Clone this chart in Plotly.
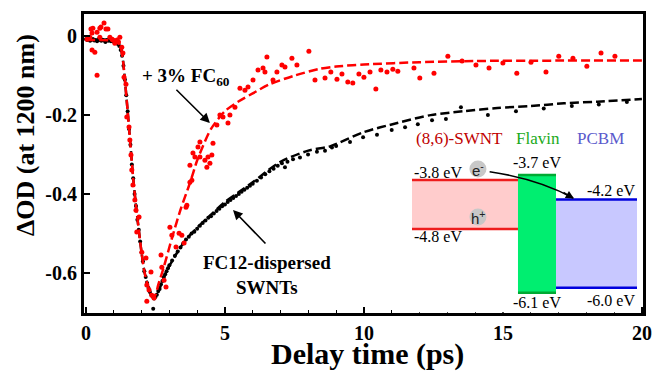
import plotly.graph_objects as go

# ---------------- data ----------------
black_x = [0.0,0.05,0.1,0.15,0.2,0.25,0.3,0.35,0.4,0.45,0.5,0.55,0.6,0.65,0.7,0.75,0.8,0.85,0.9,0.95,
           1.0,1.05,1.1,1.15,1.2,1.25,1.3,1.35,1.4,1.45,1.5,1.55,1.6,1.65,1.7,1.75,1.8,1.85,1.9,1.95,
           2.0,2.05,2.1,2.15,2.2,2.25,2.3,2.35,2.4,2.42,2.45,2.5,2.55,2.6,2.65,2.7,2.75,2.8,2.85,2.9,
           2.95,3.0,3.1,3.2,3.3,3.4,3.5,3.6,3.7,3.8,3.9,4.0,4.1,4.2,4.3,4.4,4.5,4.6,4.7,4.8,4.9,5.0,
           5.1,5.2,5.3,5.4,5.5,5.6,5.7,5.8,5.9,6.0,6.15,6.3,6.45,6.6,6.75,6.9,7.05,7.16,7.25,7.45,
           7.7,7.99,8.31,8.6,8.85,9.0,9.5,9.97,10.47,11.0,11.48,11.94,12.45,12.95,13.49,14.46,15.47,
           16.47,17.48,18.45,19.46]
black_y = [-0.008,-0.01,-0.006,-0.012,-0.009,-0.007,-0.011,-0.01,-0.013,-0.008,-0.01,-0.012,-0.009,-0.011,
           -0.015,-0.01,-0.012,-0.009,-0.013,-0.011,-0.014,-0.012,-0.016,-0.02,-0.025,-0.035,-0.05,-0.075,
           -0.11,-0.15,-0.19,-0.235,-0.275,-0.325,-0.36,-0.4,-0.43,-0.465,-0.49,-0.52,-0.548,-0.57,-0.595,
           -0.61,-0.625,-0.638,-0.648,-0.655,-0.66,-0.69,-0.664,-0.66,-0.655,-0.645,-0.64,-0.628,-0.62,-0.61,
           -0.603,-0.595,-0.588,-0.58,-0.568,-0.556,-0.545,-0.535,-0.525,-0.515,-0.508,-0.5,-0.495,-0.488,
           -0.48,-0.473,-0.467,-0.46,-0.456,-0.449,-0.443,-0.437,-0.431,-0.426,-0.42,-0.415,-0.41,-0.405,
           -0.4,-0.394,-0.389,-0.384,-0.379,-0.374,-0.366,-0.358,-0.35,-0.342,-0.336,-0.328,-0.322,-0.332,
           -0.318,-0.312,-0.307,-0.3,-0.293,-0.29,-0.282,-0.278,-0.268,-0.256,-0.25,-0.238,-0.231,-0.223,
           -0.213,-0.21,-0.18,-0.2,-0.19,-0.183,-0.177,-0.173,-0.167]

black_fit_x = [0,1.1,1.2,1.3,1.4,1.5,1.6,1.7,1.8,1.9,2.0,2.1,2.2,2.3,2.4,2.5,2.6,2.8,3.0,3.3,3.6,4.0,4.5,
               5.0,5.5,6.0,7.0,8.0,8.78,10,11.2,12.4,13.6,14.8,16,17.2,18.4,20]
black_fit_y = [-0.01,-0.012,-0.02,-0.045,-0.11,-0.19,-0.275,-0.36,-0.43,-0.49,-0.548,-0.595,-0.625,-0.648,
               -0.66,-0.662,-0.648,-0.612,-0.582,-0.546,-0.515,-0.485,-0.452,-0.42,-0.395,-0.37,-0.318,
               -0.29,-0.279,-0.243,-0.22,-0.2,-0.19,-0.182,-0.177,-0.17,-0.166,-0.159]

red_x = [0.04,0.14,0.22,0.25,0.22,0.32,0.40,0.40,0.50,0.50,0.65,0.72,0.86,0.97,1.04,1.12,1.22,1.29,1.33,
         0.18,0.54,0.79,0.94,1.08,1.17,
         1.37,1.44,1.47,1.55,1.58,1.62,1.65,1.69,1.76,1.80,1.91,1.83,2.01,2.16,2.34,2.19,2.27,2.37,2.19,2.45,
         2.70,2.73,2.81,2.88,3.02,3.09,3.24,3.35,3.45,3.53,3.60,3.63,3.74,3.74,3.81,3.85,3.92,4.03,4.10,
         4.10,4.28,4.35,4.39,4.46,4.53,4.57,4.71,4.82,4.93,5.11,5.18,5.36,5.54,5.72,5.83,6.01,6.19,6.37,
         6.44,6.51,6.73,6.87,7.05,7.16,7.41,7.59,8.02,8.24,8.60,8.81,9.03,9.21,9.42,9.60,9.82,10.00,10.22,
         10.43,10.61,10.83,11.04,11.22,11.80,12.01,12.52,13.02,13.53,14.03,14.50,15.00,15.50,16.01,16.55,
         17.01,17.52,18.02,18.53,19.03]
red_y = [-0.008,-0.003,0.008,0.020,-0.035,-0.041,0.010,-0.099,0.020,-0.003,0.033,0.018,-0.003,-0.010,
         -0.018,-0.010,-0.003,-0.028,-0.043,
         0.018,0.023,0.018,-0.008,-0.013,-0.015,
         -0.104,-0.122,-0.205,-0.230,-0.263,-0.301,-0.339,-0.377,-0.415,-0.441,-0.458,-0.496,-0.547,-0.562,
         -0.597,-0.630,-0.643,-0.656,-0.671,-0.663,
         -0.554,-0.585,-0.618,-0.635,-0.484,-0.504,-0.534,-0.499,-0.504,-0.524,-0.433,-0.428,-0.370,-0.327,
         -0.365,-0.296,-0.306,-0.281,-0.268,-0.306,-0.314,-0.332,-0.306,-0.322,-0.301,-0.271,-0.225,-0.200,
         -0.205,-0.220,-0.200,-0.180,-0.132,-0.137,-0.129,-0.111,-0.086,-0.081,-0.091,-0.053,-0.111,-0.091,
         -0.073,-0.078,-0.056,-0.073,-0.038,-0.111,-0.106,-0.091,-0.109,-0.096,-0.116,-0.119,-0.096,-0.104,
         -0.091,-0.134,-0.086,-0.091,-0.084,-0.089,-0.081,-0.106,-0.094,-0.051,-0.063,-0.073,-0.081,-0.068,
         -0.094,-0.066,-0.091,-0.051,-0.056,-0.076,-0.043,-0.051]

red_fit_x = [0,1.0,1.2,1.3,1.4,1.5,1.6,1.7,1.8,1.9,2.0,2.1,2.2,2.3,2.4,2.5,2.6,2.8,3.1,3.4,3.75,4.0,4.2,
             4.5,5.0,5.5,6.0,6.6,7.5,8.4,9.0,10,12,14,17,20]
red_fit_y = [-0.01,-0.012,-0.02,-0.045,-0.11,-0.19,-0.275,-0.36,-0.43,-0.49,-0.548,-0.595,-0.625,-0.648,
             -0.66,-0.655,-0.63,-0.585,-0.51,-0.44,-0.37,-0.315,-0.28,-0.235,-0.19,-0.165,-0.145,-0.122,
             -0.1,-0.083,-0.077,-0.072,-0.066,-0.063,-0.062,-0.062]

x_tickvals = [0, 5, 10, 15, 20]
x_ticktext = ["0", "5", "10", "15", "20"]
y_tickvals = [0, -0.2, -0.4, -0.6]
y_ticktext = ["0", "-0.2", "-0.4", "-0.6"]

# energy-level inset
materials = ["(8,6)-SWNT", "Flavin", "PCBM"]
lumo = [-3.8, -3.7, -4.2]
homo = [-4.8, -6.1, -6.0]
mat_colors = ["#c00000", "#1aaa1a", "#5a5acc"]
fill_colors = ["#ffcccc", "#00ee70", "#c8c8ff"]
line_colors = ["#ee1c1c", "#00aa33", "#0000dd"]
x_bounds = [(0.0, 0.471), (0.471, 0.64), (0.64, 1.0)]

SERIF = "Times New Roman, Liberation Serif, Times, serif"
SANS = "Liberation Sans, Arial, sans-serif"

fig = go.Figure()
fig.add_trace(go.Scatter(x=black_x, y=black_y, mode="markers",
                         marker=dict(color="black", size=4), showlegend=False))
fig.add_trace(go.Scatter(x=black_fit_x, y=black_fit_y, mode="lines",
                         line=dict(color="black", width=2.5, dash="9px,4px", shape="spline", smoothing=0.8),
                         showlegend=False))
fig.add_trace(go.Scatter(x=red_x, y=red_y, mode="markers",
                         marker=dict(color="#ff0000", size=5), showlegend=False))
fig.add_trace(go.Scatter(x=red_fit_x, y=red_fit_y, mode="lines",
                         line=dict(color="#ff0000", width=2.5, dash="9px,4px", shape="spline", smoothing=0.8),
                         showlegend=False))

shapes = []
annotations = []
for i, m in enumerate(materials):
    x0, x1 = x_bounds[i]
    shapes.append(dict(type="rect", xref="x2", yref="y2", x0=x0, x1=x1, y0=homo[i], y1=lumo[i],
                       fillcolor=fill_colors[i], line=dict(width=0), layer="above"))
for i, m in enumerate(materials):
    x0, x1 = x_bounds[i]
    for e in (lumo[i], homo[i]):
        shapes.append(dict(type="line", xref="x2", yref="y2", x0=x0, x1=x1, y0=e, y1=e,
                           line=dict(color=line_colors[i], width=2.5), layer="above"))

# heading labels
head_x = [0.213, 0.56, 0.836]
for i, m in enumerate(materials):
    annotations.append(dict(xref="x2", yref="y2", x=head_x[i], y=-2.96, text=m, showarrow=False,
                            font=dict(family=SERIF, size=17, color=mat_colors[i], weight="normal"),
                            xanchor="center", yanchor="middle"))

def elabel(v):
    return f"-{abs(v):.1f} eV"

annotations += [
    dict(xref="x2", yref="y2", x=0.0, y=-3.637, text=elabel(lumo[0]), xanchor="left", yanchor="middle"),
    dict(xref="x2", yref="y2", x=0.0, y=-4.963, text=elabel(homo[0]), xanchor="left", yanchor="middle"),
    dict(xref="x2", yref="y2", x=0.556, y=-3.433, text=elabel(lumo[1]), xanchor="center", yanchor="middle"),
    dict(xref="x2", yref="y2", x=0.556, y=-6.31, text=elabel(homo[1]), xanchor="center", yanchor="middle"),
    dict(xref="x2", yref="y2", x=1.0, y=-4.004, text=elabel(lumo[2]), xanchor="right", yanchor="middle"),
    dict(xref="x2", yref="y2", x=1.0, y=-6.249, text=elabel(homo[2]), xanchor="right", yanchor="middle"),
]
for a in annotations[-6:]:
    a["showarrow"] = False
    a["font"] = dict(family=SERIF, size=16, color="black", weight="normal")

# e- and h+ circles
for (cx, cy, t) in [(0.293, -3.576, "e<sup>-</sup>"), (0.293, -4.555, "h<sup>+</sup>")]:
    shapes.append(dict(type="circle", xref="x2", yref="y2", xsizemode="pixel", ysizemode="pixel",
                       xanchor=cx, yanchor=cy, x0=-8.5, x1=8.5, y0=-8.5, y1=8.5,
                       fillcolor="#c8c8c8", line=dict(width=0), layer="above"))
    annotations.append(dict(xref="x2", yref="y2", x=cx, y=cy, text=t, showarrow=False,
                            font=dict(family=SANS, size=15, color="#222222"),
                            xanchor="center", yanchor="middle"))

# curved electron transfer arrow
shapes.append(dict(type="path", xref="x2", yref="y2",
                   path="M 0.345,-3.63 Q 0.562,-3.78 0.716,-4.167",
                   line=dict(color="black", width=1.5), layer="above"))
annotations.append(dict(xref="x2", yref="y2", x=0.72, y=-4.18, ax=-12, ay=-7, text="",
                        showarrow=True, arrowhead=2, arrowsize=1.1, arrowwidth=1.5, arrowcolor="black"))

# main-plot labels and arrows
annotations += [
    dict(xref="x", yref="y", x=3.6, y=-0.104, text="<b>+ 3% FC<sub>60</sub></b>", showarrow=False,
         font=dict(family=SERIF, size=19, color="black")),
    dict(xref="x", yref="y", x=4.46, y=-0.22, ax=3.2, ay=-0.132, axref="x", ayref="y", text="",
         showarrow=True, arrowhead=2, arrowsize=1.2, arrowwidth=1.6, arrowcolor="black"),
    dict(xref="x", yref="y", x=6.51, y=-0.605, text="<b>FC12-dispersed<br>SWNTs</b>", showarrow=False,
         font=dict(family=SERIF, size=19, color="black")),
    dict(xref="x", yref="y", x=5.29, y=-0.44, ax=6.51, ay=-0.529, axref="x", ayref="y", text="",
         showarrow=True, arrowhead=2, arrowsize=1.2, arrowwidth=1.6, arrowcolor="black"),
    dict(xref="paper", yref="paper", x=(367 - 84) / 559, y=(313 - 354) / 299,
         text="<b>Delay time (ps)</b>", showarrow=False, xanchor="center", yanchor="middle",
         font=dict(family=SERIF, size=30, color="black")),
    dict(xref="paper", yref="paper", x=(25 - 84) / 559, y=(313 - 135) / 299,
         text="<b>ΔOD (at 1200 nm)</b>", showarrow=False, xanchor="center", yanchor="middle",
         textangle=-90, font=dict(family=SERIF, size=26, color="black")),
]

tickfont = dict(family=SERIF, size=20, color="black", weight="bold")
fig.update_layout(
    width=653, height=371,
    margin=dict(l=84, r=10, t=14, b=58, autoexpand=False),
    paper_bgcolor="white", plot_bgcolor="white",
    font=dict(family=SERIF),
    xaxis=dict(range=[-0.07, 20.04], tickvals=x_tickvals, ticktext=x_ticktext, ticks="inside",
               ticklen=6, tickwidth=1.5, tickcolor="black", showgrid=False, zeroline=False,
               showline=True, linecolor="black", linewidth=3, mirror=True, tickfont=tickfont,
               automargin=False,
               minor=dict(dtick=1, tick0=0, ticks="inside", ticklen=3, tickcolor="black", tickwidth=1)),
    yaxis=dict(range=[-0.701, 0.056], tickvals=y_tickvals, ticktext=y_ticktext, ticks="inside",
               ticklen=6, tickwidth=1.5, tickcolor="black", showgrid=False, zeroline=False,
               showline=True, linecolor="black", linewidth=3, mirror=True, tickfont=tickfont,
               automargin=False),
    xaxis2=dict(domain=[(412 - 84) / 559, (637 - 84) / 559], range=[0, 1], visible=False,
                anchor="y2", fixedrange=True, automargin=False),
    yaxis2=dict(domain=[(313 - 312.3) / 299, (313 - 131) / 299], range=[-6.5, -2.8], visible=False,
                anchor="x2", fixedrange=True, automargin=False),
    shapes=shapes,
    annotations=annotations,
)

fig.write_html("out.html", config={"displayModeBar": False},
               post_script="document.body.style.margin='0px';")
